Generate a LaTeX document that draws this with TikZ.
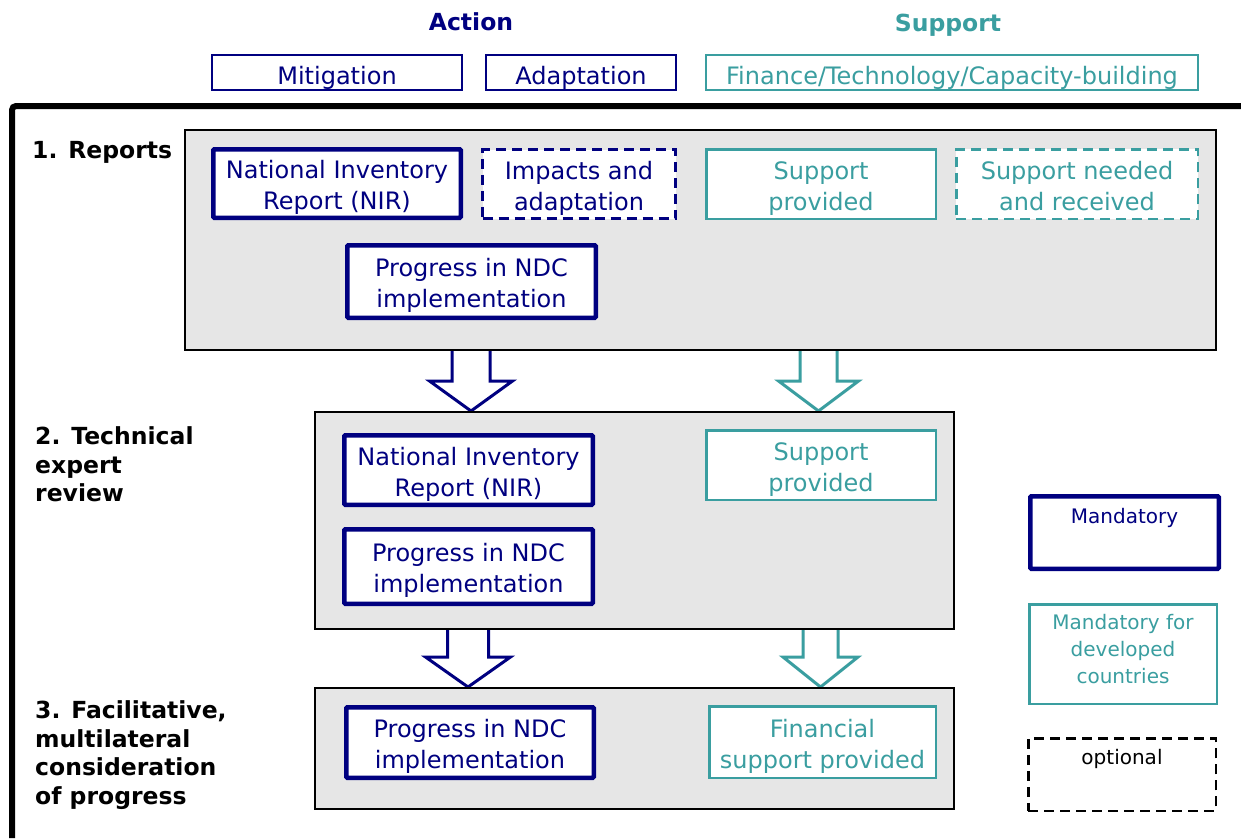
\documentclass[tikz,border=0pt]{standalone}
\usepackage{fontspec}
\setmainfont{DejaVu Sans}
\usetikzlibrary{calc}
\definecolor{navy}{RGB}{0,0,128}
\definecolor{tealc}{RGB}{58,158,160}
\definecolor{panelgray}{RGB}{230,230,230}
\pgfdeclarelayer{background}
\pgfsetlayers{background,main}
\newcommand\blockarr[6]{%
  \draw[#1] let \p1=(#2.south), \p2=(#3.north) in
    ({#4-#5},\y1) -- ({#4-#5},\y2+30pt) -- ({#4-#6},\y2+30pt) -- (#4,\y2)
    -- ({#4+#6},\y2+30pt) -- ({#4+#5},\y2+30pt) -- ({#4+#5},\y1);}
\newcommand\topstrut[1]{\rule{0pt}{#1}}
\newcommand\botstrut[1]{\rule[-#1]{0pt}{#1}}
\newcommand\twolines[2]{\topstrut{26.5pt}#1\\#2\botstrut{5.5pt}}
\tikzset{
  txt/.style={font=\fontsize{24}{31}\selectfont, align=center, inner sep=0pt},
  htxt/.style={font=\fontsize{24}{31}\selectfont, align=center, inner sep=0pt,
    execute at begin node={\topstrut{28pt}}, execute at end node={\botstrut{4pt}}},
  mand/.style={txt, draw=navy, line width=4.5pt, fill=white, text=navy, rounded corners=1pt},
  head/.style={htxt, draw=navy, line width=2pt, fill=white, text=navy},
  headt/.style={htxt, draw=tealc, line width=2pt, fill=white, text=tealc},
  optn/.style={txt, draw=navy, line width=3pt, dash pattern=on 10pt off 6pt, fill=white, text=navy},
  tealbox/.style={txt, draw=tealc, line width=2.5pt, fill=white, text=tealc},
  optt/.style={txt, draw=tealc, line width=2.5pt, dash pattern=on 10pt off 6pt, fill=white, text=tealc},
  panel/.style={draw=black, line width=2pt, fill=panelgray, inner sep=0pt},
  steplabel/.style={font=\fontsize{23.5}{28.5}\selectfont\bfseries, align=left, inner sep=0pt, anchor=west},
  navyarrow/.style={draw=navy, line width=3pt, fill=white, line join=miter},
  tealarrow/.style={draw=tealc, line width=3pt, fill=white, line join=miter},
  legtxt/.style={font=\fontsize{20}{27}\selectfont, align=center, inner sep=0pt},
}
\begin{document}
\begin{tikzpicture}[x=1pt,y=-1pt]
\useasboundingbox (0,0) rectangle (1241,838);
% outer frame
\begin{pgfonlayer}{background}
\draw[line width=6pt, rounded corners=4pt] (12,838) -- (12,106) -- (1241,106);
\end{pgfonlayer}
% headers
\node[font=\fontsize{23.5}{28}\selectfont\bfseries, text=navy, inner sep=0pt] (action) at (471,22) {Action};
\node[font=\fontsize{23.5}{28}\selectfont\bfseries, text=tealc, inner sep=0pt] (support) at (948,25) {Support};
\node[head, minimum width=250pt, minimum height=35pt] (mit) at (337,72.5) {Mitigation};
\node[head, minimum width=190pt, minimum height=35pt] (ada) at (581,72.5) {Adaptation};
\node[headt, minimum width=492pt, minimum height=35pt] (fin) at (952,72.5) {Finance/Technology/Capacity-building};
% panels
\node[panel, minimum width=1031pt, minimum height=220pt] (p1) at (700.5,240) {};
\node[panel, minimum width=639pt, minimum height=217pt] (p2) at (634.5,520.5) {};
\node[panel, minimum width=639pt, minimum height=121pt] (p3) at (634.5,748.5) {};
% step labels
\node[steplabel] (l1) at (32,152) {1. Reports};
\node[steplabel] (l2) at (35,464.5) {2. Technical\\expert\\review};
\node[steplabel] (l3) at (35,755) {3. Facilitative,\\multilateral\\consideration\\of progress};
% panel 1
\node[mand, minimum width=247.5pt, minimum height=68.5pt] (nir1) at (337,183.5) {\twolines{National Inventory}{Report (NIR)}};
\node[optn, minimum width=193pt, minimum height=69pt] (imp1) at (579,184) {\twolines{Impacts and}{adaptation}};
\node[tealbox, minimum width=229.5pt, minimum height=69.5pt] (sup1) at (821,184) {\twolines{Support}{provided}};
\node[optt, minimum width=241.5pt, minimum height=69.5pt] (supn1) at (1077,184) {\twolines{Support needed}{and received}};
\node[mand, minimum width=248.5pt, minimum height=72.5pt] (prog1) at (471.5,281.5) {\twolines{Progress in NDC}{implementation}};
% panel 2
\node[mand, minimum width=248.5pt, minimum height=69.5pt] (nir2) at (468.5,470) {\twolines{National Inventory}{Report (NIR)}};
\node[tealbox, minimum width=229.5pt, minimum height=69.5pt] (sup2) at (821,465) {\twolines{Support}{provided}};
\node[mand, minimum width=248.5pt, minimum height=74.5pt] (prog2) at (468.5,566.5) {\twolines{Progress in NDC}{implementation}};
% panel 3
\node[mand, minimum width=247.5pt, minimum height=70.5pt] (prog3) at (470,742.5) {\twolines{Progress in NDC}{implementation}};
\node[tealbox, minimum width=226.5pt, minimum height=71.5pt] (fin3) at (822.5,742) {\twolines{Financial}{support provided}};
% legend
\node[draw=navy, line width=4.5pt, rounded corners=1pt, minimum width=188.5pt, minimum height=72.5pt, inner sep=0pt] (legm) at (1124.5,532.5) {};
\node[legtxt, text=navy] (legmt) at (1124.5,518) {Mandatory};
\node[legtxt, draw=tealc, line width=2.5pt, text=tealc, minimum width=187.5pt, minimum height=99.5pt] (legt) at (1123,654) {\topstrut{19pt}Mandatory for\\developed\\countries\botstrut{15pt}};
\node[draw=black, line width=2.5pt, dash pattern=on 10pt off 6pt, minimum width=187.5pt, minimum height=72.5pt, inner sep=0pt] (lego) at (1122,774.5) {};
\node[legtxt, text=black] (legot) at (1122,759) {optional};
% block arrows
\begin{pgfonlayer}{background}
\blockarr{navyarrow}{p1}{p2}{471}{19}{41.5}
\blockarr{tealarrow}{p1}{p2}{818.5}{18.5}{40}
\blockarr{navyarrow}{p2}{p3}{468}{20.5}{42.5}
\blockarr{tealarrow}{p2}{p3}{820.5}{17.5}{37.5}
\end{pgfonlayer}
\end{tikzpicture}
\end{document}
